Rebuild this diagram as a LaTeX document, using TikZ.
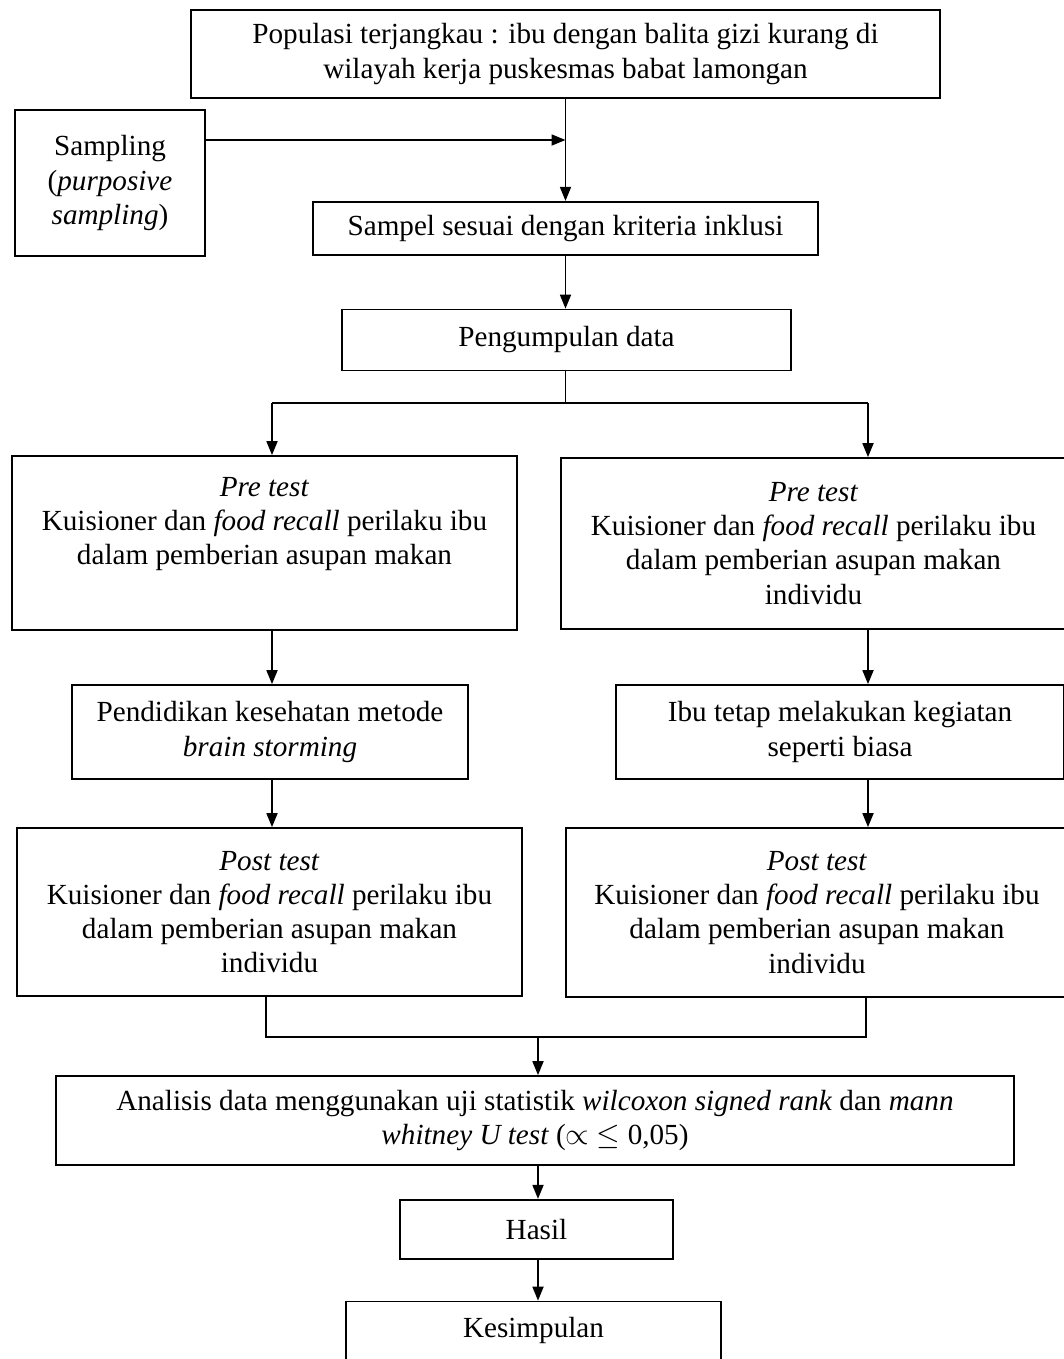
\documentclass[tikz,border=0pt]{standalone}
\usepackage{fontspec}
\setmainfont{Liberation Serif}
\usepackage{tikz}
\usetikzlibrary{arrows.meta,positioning,calc}

\tikzset{
  box/.style={draw, line width=1pt, align=center, inner sep=0pt},
  arr/.style={line width=1pt, -{Triangle[length=0.28cm,width=0.22cm]}},
  ln/.style={line width=1pt}
}

\begin{document}
\begin{tikzpicture}[font=\fontsize{16.6}{19.4}\selectfont]
    \useasboundingbox (0,0) rectangle (21.28,-27.18);
    \clip (0,0) rectangle (21.28,-27.18);

    \node[box, minimum width=14.98cm, minimum height=1.76cm] (pop) at (11.31,-1.08)
      {Populasi terjangkau : ibu dengan balita gizi kurang di\\wilayah kerja puskesmas babat lamongan};

    \node[box, minimum width=3.8cm, minimum height=2.92cm] (samp) at (2.2,-3.66)
      {Sampling\\(\textit{purposive}\\\textit{sampling})};

    \node[box, below=2.04cm of pop, minimum width=10.1cm, minimum height=1.06cm] (sampel)
      {Sampel sesuai dengan kriteria inklusi};

    \node[box, below=1.06cm of sampel, xshift=0.02cm, minimum width=8.98cm, minimum height=1.22cm] (kumpul)
      {Pengumpulan data};

    % kelompok kiri dan kanan
    \node[box, minimum width=10.1cm, minimum height=3.48cm] (preA) at (5.29,-10.86)
      {\textit{Pre test}\\Kuisioner dan \textit{food recall} perilaku ibu\\dalam pemberian asupan makan\\\strut};
    \node[box, minimum width=10.1cm, minimum height=3.42cm] (preB) at (16.27,-10.87)
      {\textit{Pre test}\\Kuisioner dan \textit{food recall} perilaku ibu\\dalam pemberian asupan makan\\individu};

    \node[box, minimum width=7.92cm, minimum height=1.88cm] (didik) at (5.4,-14.64)
      {Pendidikan kesehatan metode\\\textit{brain storming}};
    \node[box, minimum width=8.96cm, minimum height=1.88cm] (biasa) at (16.8,-14.64)
      {Ibu tetap melakukan kegiatan\\seperti biasa};

    \node[box, minimum width=10.1cm, minimum height=3.36cm] (postA) at (5.39,-18.24)
      {\textit{Post test}\\Kuisioner dan \textit{food recall} perilaku ibu\\dalam pemberian asupan makan\\individu};
    \node[box, minimum width=10.04cm, minimum height=3.38cm] (postB) at (16.34,-18.25)
      {\textit{Post test}\\Kuisioner dan \textit{food recall} perilaku ibu\\dalam pemberian asupan makan\\individu};

    \node[box, minimum width=19.16cm, minimum height=1.78cm] (anal) at (10.7,-22.41)
      {Analisis data menggunakan uji statistik \textit{wilcoxon signed rank} dan \textit{mann}\\\textit{whitney U test} (\(\propto\) \(\leq\) 0,05)};

    \node[box, below=0.66cm of anal, xshift=0.03cm, minimum width=5.46cm, minimum height=1.18cm] (hasil)
      {Hasil};

    \node[box, below=0.82cm of hasil, xshift=-0.06cm, minimum width=7.5cm, minimum height=1.92cm] (simpul)
      {Kesimpulan\\\strut};

    % titik bantu
    \coordinate (sj) at (pop.south |- 0,-2.8);
    \coordinate (split) at (pop.south |- 0,-8.06);
    \coordinate (lanA) at (5.44,-8.06);
    \coordinate (lanB) at (17.36,-8.06);
    \coordinate (mrgA) at (5.32,-20.74);
    \coordinate (mrgB) at (17.32,-20.74);
    \coordinate (mrg) at (10.76,-20.74);

    % panah
    \draw[ln] (pop.south) -- (sj);
    \draw[arr] (sj) -- (sampel.north);
    \draw[arr] (samp.east |- sj) -- (sj);
    \draw[arr] (sj |- sampel.south) -- (sj |- kumpul.north);
    \draw[ln] (split |- kumpul.south) -- (split);
    \draw[ln] (lanA) -- (lanB);
    \draw[arr] (lanA) -- (lanA |- preA.north);
    \draw[arr] (lanB) -- (lanB |- preB.north);
    \draw[arr] (lanA |- preA.south) -- (lanA |- didik.north);
    \draw[arr] (lanB |- preB.south) -- (lanB |- biasa.north);
    \draw[arr] (lanA |- didik.south) -- (lanA |- postA.north);
    \draw[arr] (lanB |- biasa.south) -- (lanB |- postB.north);
    \draw[ln] (mrgA |- postA.south) -- (mrgA) -- (mrgB) -- (mrgB |- postB.south);
    \draw[arr] (mrg) -- (mrg |- anal.north);
    \draw[arr] (mrg |- anal.south) -- (mrg |- hasil.north);
    \draw[arr] (mrg |- hasil.south) -- (mrg |- simpul.north);

  \end{tikzpicture}
\end{document}
